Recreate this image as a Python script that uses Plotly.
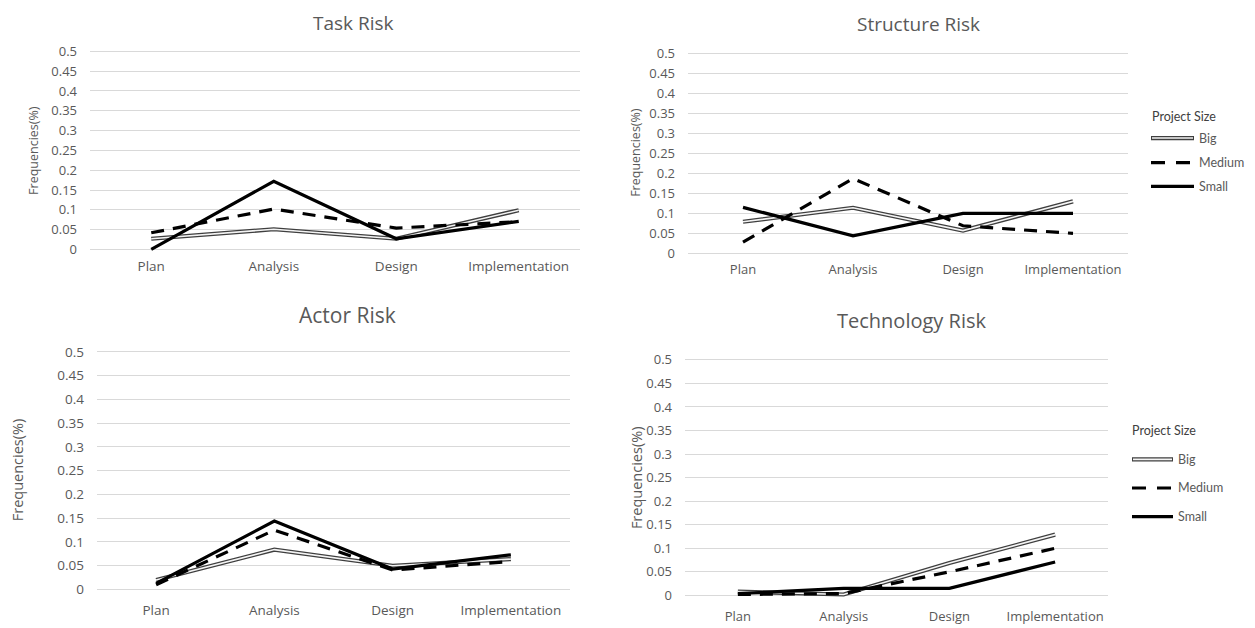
import plotly.graph_objects as go

# ---------------- data ----------------
categories = ["Plan", "Analysis", "Design", "Implementation"]
tick_vals = [0, 0.05, 0.1, 0.15, 0.2, 0.25, 0.3, 0.35, 0.4, 0.45, 0.5]
tick_text = ["0", "0.05", "0.1", "0.15", "0.2", "0.25", "0.3", "0.35", "0.4", "0.45", "0.5"]
panel_titles = ["Task Risk", "Structure Risk", "Actor Risk", "Technology Risk"]
series_names = ["Big", "Medium", "Small"]
legend_title = "Project Size"
y_title = "Frequencies(%)"

task_big = [0.027, 0.051, 0.027, 0.099]
task_medium = [0.042, 0.102, 0.054, 0.070]
task_small = [0.0, 0.172, 0.027, 0.071]

structure_big = [0.079, 0.114, 0.057, 0.130]
structure_medium = [0.028, 0.187, 0.069, 0.050]
structure_small = [0.115, 0.044, 0.100, 0.100]

actor_big = [0.020, 0.084, 0.050, 0.064]
actor_medium = [0.010, 0.125, 0.041, 0.059]
actor_small = [0.013, 0.144, 0.043, 0.073]

technology_big = [0.008, 0.002, 0.069, 0.129]
technology_medium = [0.002, 0.004, 0.050, 0.100]
technology_small = [0.004, 0.015, 0.015, 0.071]

panels = [
    (task_big, task_medium, task_small),
    (structure_big, structure_medium, structure_small),
    (actor_big, actor_medium, actor_small),
    (technology_big, technology_medium, technology_small),
]

# ---------------- layout helpers ----------------
W, H = 1255, 628


def px_x(x):
    return x / W


def px_y(y):
    return 1 - y / H


# plot areas in pixels: (left, right, y_of_0.5, y_of_0)
areas = [
    (90, 580, 47, 248),
    (688, 1128, 49, 252),
    (97, 570, 352, 593),
    (685, 1108, 360, 599),
]
pad = 0.012  # extra data range so lines at 0 are not clipped

title_pos = [(353, 18, 19), (918, 19, 19), (347, 315, 21), (912, 320, 20)]
ytitle_pos = [(34, 148, 12.5), (636, 150, 12.5), (17, 472, 14.5), (636, 480, 14.5)]
tick_font_sizes = [13, 13, 13.5, 13]
cat_font_sizes = [13.5, 13, 13.5, 13]
cat_standoff = [2, 2, 5, 6]

GRAY = "#595959"
fig = go.Figure()

for i, (big, medium, small) in enumerate(panels):
    n = "" if i == 0 else str(i + 1)
    xa, ya = "x" + n, "y" + n
    # Big: double line (outer dark + inner white)
    fig.add_trace(go.Scatter(x=categories, y=big, mode="lines", xaxis=xa, yaxis=ya,
                             line=dict(color="#3f3f3f", width=4.2), showlegend=False,
                             name=series_names[0]))
    fig.add_trace(go.Scatter(x=categories, y=big, mode="lines", xaxis=xa, yaxis=ya,
                             line=dict(color="#f4f4f4", width=1.6), showlegend=False,
                             hoverinfo="skip"))
    fig.add_trace(go.Scatter(x=categories, y=medium, mode="lines", xaxis=xa, yaxis=ya,
                             line=dict(color="black", width=3.2, dash="13px,9px"),
                             showlegend=False, name=series_names[1]))
    fig.add_trace(go.Scatter(x=categories, y=small, mode="lines", xaxis=xa, yaxis=ya,
                             line=dict(color="black", width=3.2), showlegend=False,
                             name=series_names[2]))

    l, r, y5, y0 = areas[i]
    ppu = (y0 - y5) / 0.5
    top = y5 - pad * ppu
    bot = y0 + pad * ppu
    fig.update_layout(**{
        "xaxis" + n: dict(domain=[px_x(l), px_x(r)], anchor=ya, type="category",
                          range=[-0.5, 3.5], showgrid=False, showline=False, zeroline=False,
                          ticks="", ticklabelstandoff=cat_standoff[i],
                          tickfont=dict(family="Open Sans", size=cat_font_sizes[i], color=GRAY)),
        "yaxis" + n: dict(domain=[px_y(bot), px_y(top)], anchor=xa,
                          range=[-pad, 0.5 + pad], tickvals=tick_vals, ticktext=tick_text,
                          showgrid=True, gridcolor="#d9d9d9", gridwidth=1, zeroline=False,
                          showline=False, ticks="", ticklabelstandoff=12,
                          tickfont=dict(family="Open Sans", size=tick_font_sizes[i], color=GRAY)),
    })

annotations = []
for i, t in enumerate(panel_titles):
    x, y, s = title_pos[i]
    annotations.append(dict(text=t, x=px_x(x), y=px_y(y), xref="paper", yref="paper",
                            xanchor="center", yanchor="middle", showarrow=False,
                            font=dict(family="Open Sans", size=s, color=GRAY)))
    x, y, s = ytitle_pos[i]
    annotations.append(dict(text=y_title, x=px_x(x), y=px_y(y), xref="paper", yref="paper",
                            xanchor="center", yanchor="middle", showarrow=False, textangle=-90,
                            font=dict(family="Open Sans", size=s, color=GRAY)))

# manual legends (two of them, as in the reference)
shapes = []
legend_specs = [
    # title x, title y, line x0, line x1, text x, item ys
    (1150, 113, 1151, 1194, 1197, [135, 160, 184]),
    (1130, 432, 1132, 1173, 1176, [461, 490, 519]),
]
for (tx, ty, lx0, lx1, txx, ys) in legend_specs:
    annotations.append(dict(text=legend_title, x=px_x(tx), y=px_y(ty), xref="paper",
                            yref="paper", xanchor="left", yanchor="middle", showarrow=False,
                            font=dict(family="Lato", size=12.5, color="#404040")))
    for name, yy in zip(series_names, ys):
        annotations.append(dict(text=name, x=px_x(txx), y=px_y(yy), xref="paper",
                                yref="paper", xanchor="left", yanchor="middle", showarrow=False,
                                font=dict(family="Lato", size=12.5, color=GRAY)))
    yb, ym, ysm = ys
    shapes.append(dict(type="line", xref="paper", yref="paper", x0=px_x(lx0), x1=px_x(lx1),
                       y0=px_y(yb), y1=px_y(yb), line=dict(color="#3f3f3f", width=4.2)))
    shapes.append(dict(type="line", xref="paper", yref="paper", x0=px_x(lx0 + 1), x1=px_x(lx1 - 1),
                       y0=px_y(yb), y1=px_y(yb), line=dict(color="#f4f4f4", width=1.6)))
    shapes.append(dict(type="line", xref="paper", yref="paper", x0=px_x(lx0), x1=px_x(lx1),
                       y0=px_y(ym), y1=px_y(ym), line=dict(color="black", width=3.2, dash="14px,11px")))
    shapes.append(dict(type="line", xref="paper", yref="paper", x0=px_x(lx0), x1=px_x(lx1),
                       y0=px_y(ysm), y1=px_y(ysm), line=dict(color="black", width=3.2)))

fig.update_layout(width=W, height=H, margin=dict(l=0, r=0, t=0, b=0),
                  paper_bgcolor="white", plot_bgcolor="white", showlegend=False,
                  annotations=annotations, shapes=shapes)

fig.write_html("out.html", config={"displayModeBar": False},
               post_script="document.body.style.margin='0';document.body.style.overflow='hidden';")
